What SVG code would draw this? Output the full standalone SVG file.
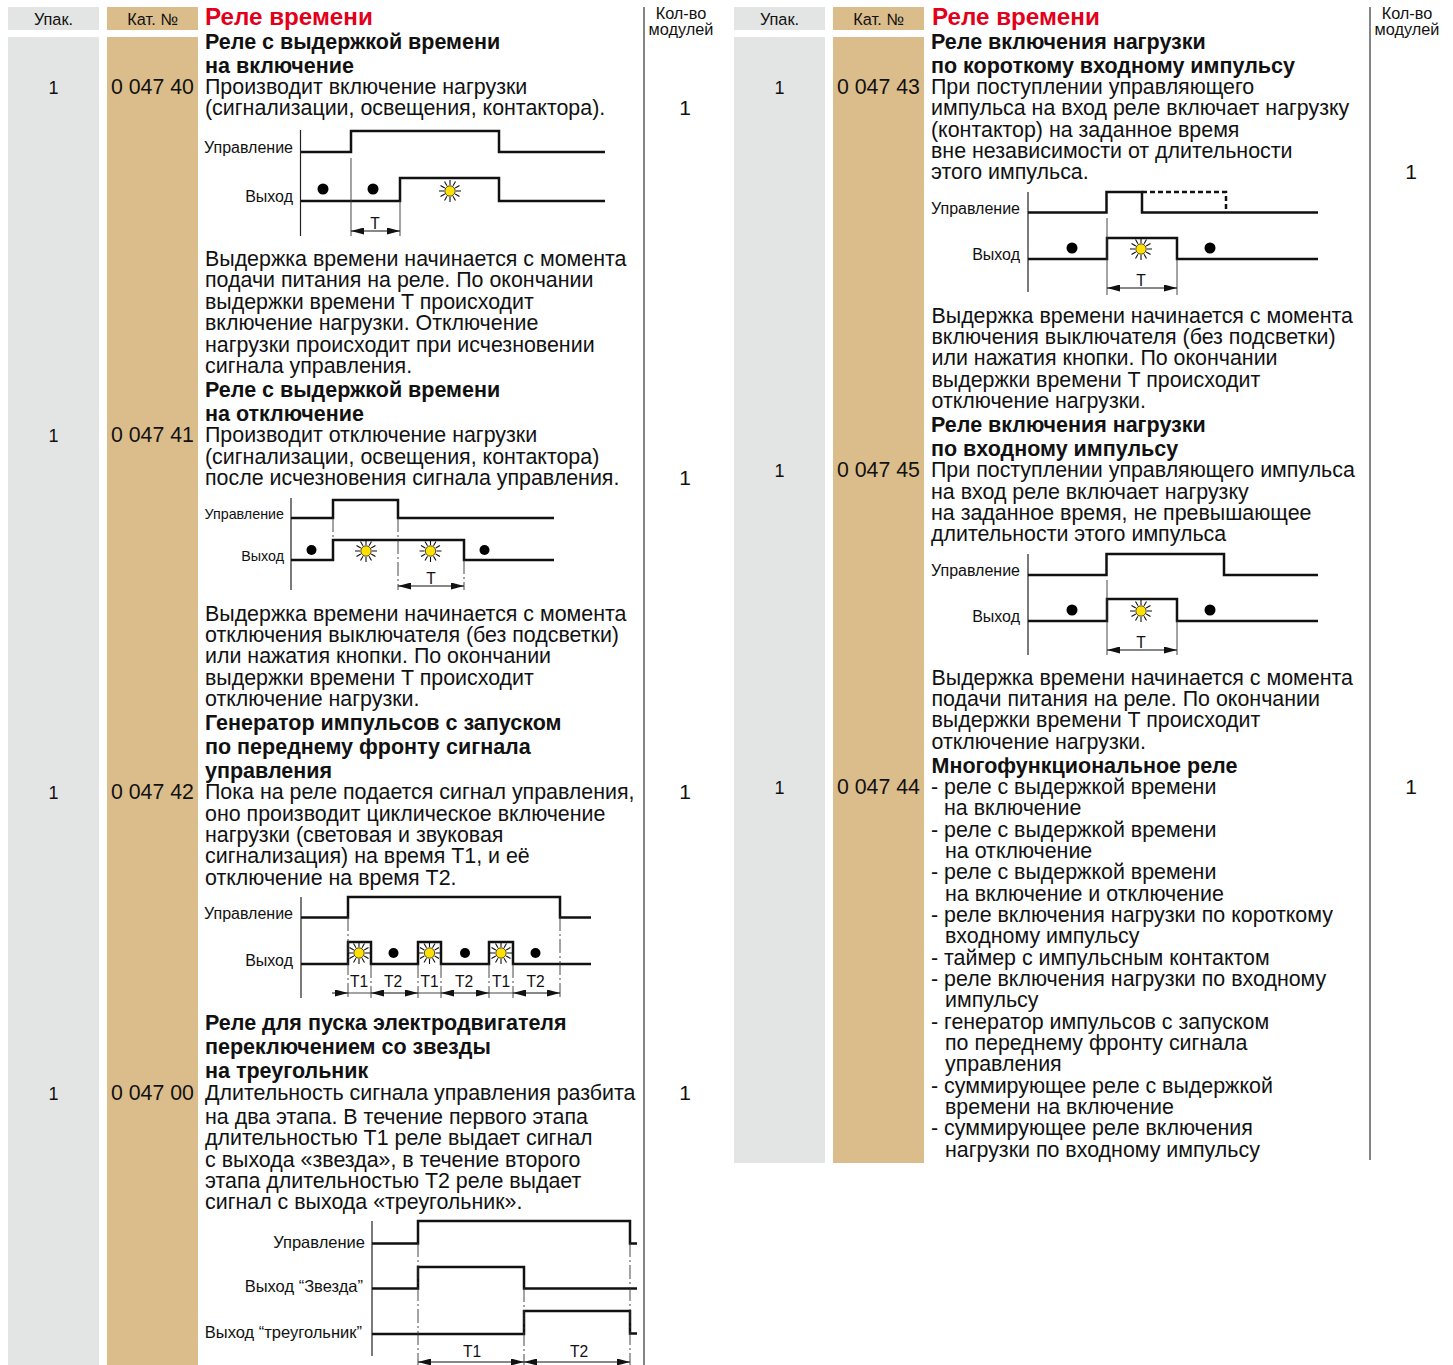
<svg xmlns="http://www.w3.org/2000/svg" xmlns:xlink="http://www.w3.org/1999/xlink" width="1453" height="1365" viewBox="0 0 1453 1365">
<style>
text{font-family:"Liberation Sans",Arial,sans-serif;fill:#111}
.b{font-size:21.4px}
.h{font-size:21.5px;font-weight:bold}
.t{font-size:24.2px;font-weight:bold;fill:#e2001a}
.c{font-size:16.3px;text-anchor:middle}
.n{font-size:21.3px}
.q{font-size:18px;text-anchor:middle}
.m{font-size:21px;text-anchor:middle}
.l{font-size:16px;text-anchor:end}
.s{font-size:14.3px;text-anchor:end}
.x{font-size:16.5px;text-anchor:end}
.tl{font-size:15.6px;text-anchor:middle}
.g{fill:#e3e4e4}
.k{fill:#dbbd8c}
.w{fill:none;stroke:#111;stroke-width:2.5}
.a{fill:none;stroke:#222;stroke-width:1.2}
.v{fill:none;stroke:#333;stroke-width:.9}
.d{fill:none;stroke:#333;stroke-width:.9;stroke-dasharray:14 3 2 3}
.r{fill:none;stroke:#111;stroke-width:1;marker-start:url(#as);marker-end:url(#ae)}
.ro{fill:none;stroke:#111;stroke-width:1;marker-end:url(#ae)}
.sep{stroke:#333;stroke-width:1.2}
</style>
<defs>
<marker id="ae" markerUnits="userSpaceOnUse" markerWidth="14" markerHeight="8" refX="13" refY="3.500" orient="auto"><path d="M0 0L13 3.500L0 7Z" fill="#111"/></marker>
<marker id="as" markerUnits="userSpaceOnUse" markerWidth="14" markerHeight="8" refX="0" refY="3.500" orient="auto"><path d="M13 0L0 3.500L13 7Z" fill="#111"/></marker>
<g id="sun"><path d="M6 0H11M-6 0H-11M0 6V11M0 -6V-11M5.200 3L9.500 5.500M-5.200 3L-9.500 5.500M5.200 -3L9.500 -5.500M-5.200 -3L-9.500 -5.500M3 5.200L5.500 9.500M-3 5.200L-5.500 9.500M3 -5.200L5.500 -9.500M-3 -5.200L-5.500 -9.500" stroke="#111" stroke-width="1.100" fill="none"/><circle r="5.200" fill="#ffe000" stroke="#222" stroke-width=".8"/></g>
</defs>

<g id="columns-left">
<rect class="g" x="8" y="7" width="91" height="23"/><rect class="k" x="107" y="7" width="91" height="23"/>
<rect class="g" x="8" y="37" width="91" height="1328"/><rect class="k" x="107" y="37" width="91" height="1328"/>
<line class="sep" x1="644" y1="7" x2="644" y2="1365"/>
<text class="c" x="53.500" y="25">Упак.</text><text class="c" x="152.500" y="25">Кат. №</text>
<text class="c" x="681" y="19">Кол-во</text><text class="c" x="681" y="35">модулей</text>
<text class="t" x="205" y="25">Реле времени</text>
</g>
<g id="columns-right">
<rect class="g" x="734" y="7" width="91" height="23"/><rect class="k" x="833" y="7" width="91" height="23"/>
<rect class="g" x="734" y="37" width="91" height="1126"/><rect class="k" x="833" y="37" width="91" height="1126"/>
<line class="sep" x1="1370" y1="7" x2="1370" y2="1160"/>
<text class="c" x="779.500" y="25">Упак.</text><text class="c" x="878.500" y="25">Кат. №</text>
<text class="c" x="1407" y="19">Кол-во</text><text class="c" x="1407" y="35">модулей</text>
<text class="t" x="932" y="25">Реле времени</text>
</g>

<g id="item-004740">
<text class="q" x="53.500" y="94">1</text><text class="n" x="111" y="94">0 047 40</text><text class="m" x="685" y="115">1</text>
<text class="h" x="205" y="49">Реле с выдержкой времени</text><text class="h" x="205" y="73">на включение</text>
<text class="b" x="205" y="94">Производит включение нагрузки</text>
<text class="b" x="205" y="115">(сигнализации, освещения, контактора).</text>
<text class="b" x="205" y="266">Выдержка времени начинается с момента</text>
<text class="b" x="205" y="287">подачи питания на реле. По окончании</text>
<text class="b" x="205" y="309">выдержки времени T происходит</text>
<text class="b" x="205" y="330">включение нагрузки. Отключение</text>
<text class="b" x="205" y="352">нагрузки происходит при исчезновении</text>
<text class="b" x="205" y="373">сигнала управления.</text>
<text class="l" x="293" y="153">Управление</text><text class="l" x="293" y="202">Выход</text>
<path class="a" d="M300.500 130V236"/>
<path class="w" d="M301 152H351V131H499V152H605"/><path class="w" d="M301 201H400V178H499V201H605"/>
<path class="v" d="M351 158V236M400 201V236"/>
<path class="r" d="M351 231H400"/>
<text class="tl" x="375" y="229">T</text>
<circle cx="323" cy="189" r="5.500"/><circle cx="373" cy="189" r="5.500"/><use xlink:href="#sun" href="#sun" x="450" y="191"/>
</g>

<g id="item-004741">
<text class="q" x="53.500" y="442">1</text><text class="n" x="111" y="442">0 047 41</text><text class="m" x="685" y="485">1</text>
<text class="h" x="205" y="397">Реле с выдержкой времени</text><text class="h" x="205" y="421">на отключение</text>
<text class="b" x="205" y="442">Производит отключение нагрузки</text>
<text class="b" x="205" y="464">(сигнализации, освещения, контактора)</text>
<text class="b" x="205" y="485">после исчезновения сигнала управления.</text>
<text class="b" x="205" y="621">Выдержка времени начинается с момента</text>
<text class="b" x="205" y="642">отключения выключателя (без подсветки)</text>
<text class="b" x="205" y="663">или нажатия кнопки. По окончании</text>
<text class="b" x="205" y="685">выдержки времени T происходит</text>
<text class="b" x="205" y="706">отключение нагрузки.</text>
<text class="s" x="284" y="519">Управление</text><text class="s" x="284" y="561">Выход</text>
<path class="a" d="M291 498V590"/>
<path class="w" d="M291 518H333V500H398V518H554"/><path class="w" d="M291 560H333V540H464V560H554"/>
<path class="d" d="M333 518V540M398 518V590M464 560V590"/>
<path class="r" d="M398 586H464"/>
<text class="tl" x="431" y="584">T</text>
<circle cx="311.500" cy="550" r="5"/><circle cx="484.500" cy="550" r="5"/><use xlink:href="#sun" href="#sun" x="366" y="551"/><use xlink:href="#sun" href="#sun" x="430.500" y="551"/>
</g>

<g id="item-004742">
<text class="q" x="53.500" y="799">1</text><text class="n" x="111" y="799">0 047 42</text><text class="m" x="685" y="799">1</text>
<text class="h" x="205" y="730">Генератор импульсов с запуском</text><text class="h" x="205" y="754">по переднему фронту сигнала</text><text class="h" x="205" y="778">управления</text>
<text class="b" x="205" y="799">Пока на реле подается сигнал управления,</text>
<text class="b" x="205" y="821">оно производит циклическое включение</text>
<text class="b" x="205" y="842">нагрузки (световая и звуковая</text>
<text class="b" x="205" y="863">сигнализация) на время T1, и её</text>
<text class="b" x="205" y="885">отключение на время T2.</text>
<text class="l" x="293" y="919">Управление</text><text class="l" x="293" y="966">Выход</text>
<path class="a" d="M301 897V998"/>
<path class="w" d="M301 917.500H348V897H560V917.500H591"/><path class="w" d="M301 964H348V942H371V964H418V942H441V964H489V942H513V964H591"/>
<path class="d" d="M348 917V998M371 964V998M418 964V998M441 964V998M489 964V998M513 964V998M560 917V998"/>
<path class="ro" d="M332 993H348"/><path class="r" d="M371 993H418"/><path class="r" d="M441 993H489"/><path class="r" d="M513 993H560"/><path class="v" d="M348 993H371M418 993H441M489 993H513"/>
<text class="tl" x="359" y="987">T1</text><text class="tl" x="393" y="987">T2</text><text class="tl" x="429.500" y="987">T1</text><text class="tl" x="464" y="987">T2</text><text class="tl" x="501" y="987">T1</text><text class="tl" x="535.500" y="987">T2</text>
<circle cx="393.500" cy="953" r="5"/><circle cx="465" cy="953" r="5"/><circle cx="535.500" cy="953" r="5"/>
<use xlink:href="#sun" href="#sun" x="359" y="953"/><use xlink:href="#sun" href="#sun" x="429.500" y="953"/><use xlink:href="#sun" href="#sun" x="501" y="953"/>
</g>

<g id="item-004700">
<text class="q" x="53.500" y="1100">1</text><text class="n" x="111" y="1100">0 047 00</text><text class="m" x="685" y="1100">1</text>
<text class="h" x="205" y="1030">Реле для пуска электродвигателя</text><text class="h" x="205" y="1054">переключением со звезды</text><text class="h" x="205" y="1078">на треугольник</text>
<text class="b" x="205" y="1100">Длительность сигнала управления разбита</text>
<text class="b" x="205" y="1124">на два этапа. В течение первого этапа</text>
<text class="b" x="205" y="1145">длительностью T1 реле выдает сигнал</text>
<text class="b" x="205" y="1167">с выхода «звезда», в течение второго</text>
<text class="b" x="205" y="1188">этапа длительностью T2 реле выдает</text>
<text class="b" x="205" y="1209">сигнал с выхода «треугольник».</text>
<text class="x" x="365" y="1248">Управление</text><text class="x" x="363" y="1292">Выход “Звезда”</text><text class="x" x="362" y="1338">Выход “треугольник”</text>
<path class="a" d="M372 1221V1356"/>
<path class="w" d="M372 1243.500H418V1221H630V1243.500H637"/><path class="w" d="M372 1288.500H418V1267H524V1288.500H637"/><path class="w" d="M372 1334H524V1311H630V1333.500H637"/>
<path class="d" d="M418 1243V1365M524 1288V1365M630 1243V1365"/>
<path class="r" d="M418 1362H524"/><path class="r" d="M524 1362H630"/>
<text class="tl" x="472" y="1357">T1</text><text class="tl" x="579" y="1357">T2</text>
</g>

<g id="item-004743">
<text class="q" x="779.500" y="94">1</text><text class="n" x="837" y="94">0 047 43</text><text class="m" x="1411" y="179">1</text>
<text class="h" x="931" y="49">Реле включения нагрузки</text><text class="h" x="931" y="73">по короткому входному импульсу</text>
<text class="b" x="931" y="94">При поступлении управляющего</text>
<text class="b" x="931" y="115">импульса на вход реле включает нагрузку</text>
<text class="b" x="931" y="137">(контактор) на заданное время</text>
<text class="b" x="931" y="158">вне независимости от длительности</text>
<text class="b" x="931" y="179">этого импульса.</text>
<text class="b" x="931.500" y="323">Выдержка времени начинается с момента</text>
<text class="b" x="931.500" y="344">включения выключателя (без подсветки)</text>
<text class="b" x="931.500" y="365">или нажатия кнопки. По окончании</text>
<text class="b" x="931.500" y="387">выдержки времени T происходит</text>
<text class="b" x="931.500" y="408">отключение нагрузки.</text>
<text class="l" x="1020" y="214">Управление</text><text class="l" x="1020" y="260">Выход</text>
<path class="a" d="M1028 192V292"/>
<path class="w" d="M1028 212.500H1106.500V192H1142V212.500H1318"/><path class="w" d="M1142 192H1226V212" stroke-dasharray="5 3"/><path class="w" d="M1028 259H1107V238H1177V259H1318"/>
<path class="v" d="M1107 218V295M1177 259V295"/>
<path class="r" d="M1107 288H1177"/>
<text class="tl" x="1141" y="286">T</text>
<circle cx="1072" cy="248" r="5.500"/><circle cx="1210" cy="248" r="5.500"/><use xlink:href="#sun" href="#sun" x="1141" y="249"/>
</g>

<g id="item-004745">
<text class="q" x="779.500" y="477">1</text><text class="n" x="837" y="477">0 047 45</text>
<text class="h" x="931" y="432">Реле включения нагрузки</text><text class="h" x="931" y="456">по входному импульсу</text>
<text class="b" x="931" y="477">При поступлении управляющего импульса</text>
<text class="b" x="931" y="499">на вход реле включает нагрузку</text>
<text class="b" x="931" y="520">на заданное время, не превышающее</text>
<text class="b" x="931" y="541">длительности этого импульса</text>
<text class="b" x="931.500" y="685">Выдержка времени начинается с момента</text>
<text class="b" x="931.500" y="706">подачи питания на реле. По окончании</text>
<text class="b" x="931.500" y="727">выдержки времени T происходит</text>
<text class="b" x="931.500" y="749">отключение нагрузки.</text>
<text class="l" x="1020" y="576">Управление</text><text class="l" x="1020" y="622">Выход</text>
<path class="a" d="M1028 554V655"/>
<path class="w" d="M1028 575H1106.500V554H1224V575H1318"/><path class="w" d="M1028 621H1107V599H1177V621H1318"/>
<path class="v" d="M1107 580V655M1177 621V655"/>
<path class="r" d="M1107 650H1177"/>
<text class="tl" x="1141" y="648">T</text>
<circle cx="1072" cy="610" r="5.500"/><circle cx="1210" cy="610" r="5.500"/><use xlink:href="#sun" href="#sun" x="1141" y="611"/>
</g>

<g id="item-004744">
<text class="q" x="779.500" y="794">1</text><text class="n" x="837" y="794">0 047 44</text><text class="m" x="1411" y="794">1</text>
<text class="h" x="931.500" y="773">Многофункциональное реле</text>
<text class="b" x="931" y="794">- реле с выдержкой времени</text>
<text class="b" x="944" y="815">на включение</text>
<text class="b" x="931" y="837">- реле с выдержкой времени</text>
<text class="b" x="945" y="858">на отключение</text>
<text class="b" x="931" y="879">- реле с выдержкой времени</text>
<text class="b" x="945" y="901">на включение и отключение</text>
<text class="b" x="931" y="922">- реле включения нагрузки по короткому</text>
<text class="b" x="945" y="943">входному импульсу</text>
<text class="b" x="931" y="965">- таймер с импульсным контактом</text>
<text class="b" x="931" y="986">- реле включения нагрузки по входному</text>
<text class="b" x="945" y="1007">импульсу</text>
<text class="b" x="931" y="1029">- генератор импульсов с запуском</text>
<text class="b" x="945" y="1050">по переднему фронту сигнала</text>
<text class="b" x="945" y="1071">управления</text>
<text class="b" x="931" y="1093">- суммирующее реле с выдержкой</text>
<text class="b" x="945" y="1114">времени на включение</text>
<text class="b" x="931" y="1135">- суммирующее реле включения</text>
<text class="b" x="945" y="1157">нагрузки по входному импульсу</text>
</g>
</svg>
